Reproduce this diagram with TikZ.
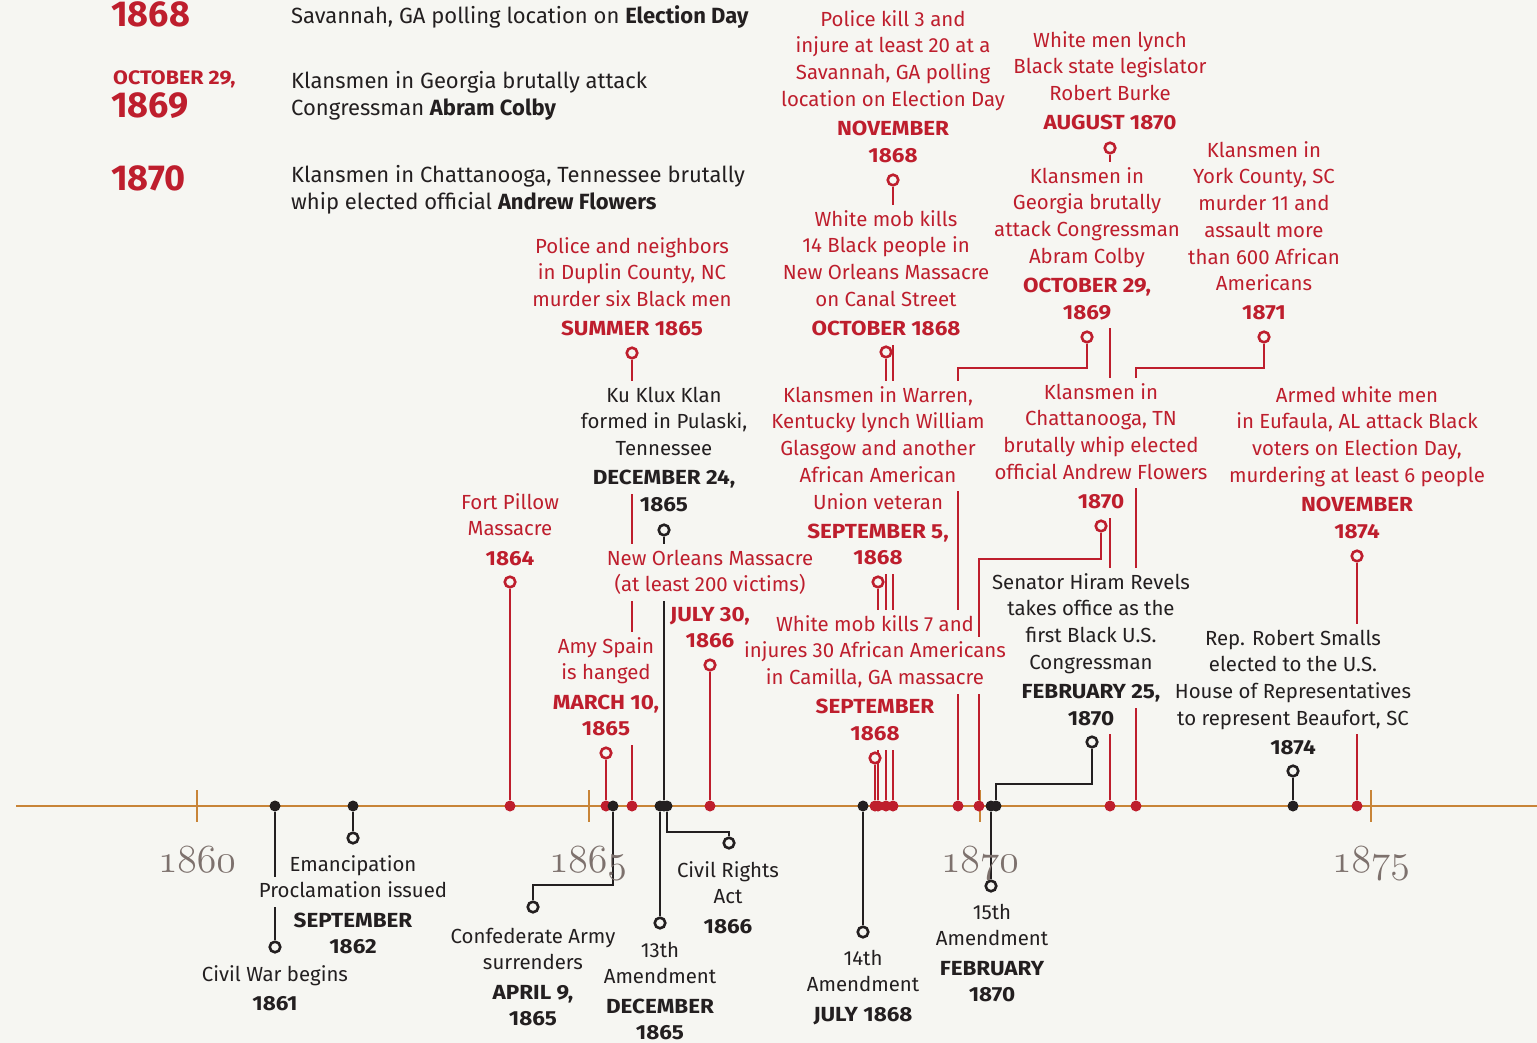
\documentclass[tikz,border=0pt]{standalone}
\usepackage{fontspec}
\setmainfont{Fira Sans}
\newfontfamily\widefont[FakeStretch=1.1]{Fira Sans}
\usetikzlibrary{positioning,backgrounds}
\tikzset{>=stealth}

\definecolor{paper}{RGB}{246,246,242}
\definecolor{tlred}{RGB}{190,30,45}
\definecolor{ink}{RGB}{35,31,32}
\definecolor{axisorange}{RGB}{200,132,56}
\definecolor{yeargray}{RGB}{125,113,109}

\newcommand\evfont{\fontsize{20.4}{26.7}\selectfont\lineskiplimit=-100pt\relax}
\newcommand\hdfont{\fontsize{22}{27}\selectfont\lineskiplimit=-100pt\relax}
\newcommand\yearfont{\fontsize{38}{38}\usefont{OML}{lmm}{m}{it}}
\newcommand\yr[1]{\scalebox{1.6}{#1}}
\newcommand\hs{\rule{0pt}{20pt}}
% one line of text that blanks the connectors behind it
\newcommand\ml[1]{\setbox0=\hbox{#1}\rlap{\hskip-3pt\textcolor{paper}{\rule[-9pt]{\dimexpr\wd0+6pt\relax}{30pt}}}\box0}
\newcommand\dt[1]{\ml{\widefont\bfseries #1}}

\tikzset{
  redtext/.style={align=center, inner sep=0pt, anchor=north, font=\evfont, text=tlred},
  inktext/.style={redtext, text=ink},
  ring/.style={circle, draw=#1, fill=paper, line width=2.6pt, minimum size=10.6pt, inner sep=0pt},
  axisdot/.style={circle, fill=#1, minimum size=11pt, inner sep=0pt},
  redline/.style={draw=tlred, line width=2.6pt},
  inkline/.style={draw=ink, line width=2.6pt},
  yearlbl/.style={anchor=base, inner sep=0pt, text=yeargray, font=\yearfont},
  tickmark/.style={draw=axisorange, line width=2pt},
  hdrnum/.style={anchor=base west, inner sep=0pt, text=tlred, font={\bfseries\fontsize{36}{36}\selectfont}},
  hdrdate/.style={anchor=base west, inner sep=0pt, text=tlred, font={\widefont\bfseries\fontsize{19.5}{19.5}\selectfont}},
  hdrblock/.style={anchor=north west, align=left, inner sep=0pt, text=ink, font=\hdfont},
}

\begin{document}
\begin{tikzpicture}[x=1pt,y=-1pt]
\useasboundingbox (0,0) rectangle (1537,1043);

% key at the top left
\node[hdrnum] (h68) at (111,27) {1868};
\node[hdrblock] (t68) at (291,3) {\hs Savannah, GA polling location on \textbf{Election Day}};
\node[hdrdate] (d69) at (113,85) {OCTOBER 29,};
\node[hdrnum] (h69) at (111,118) {1869};
\node[hdrblock] (t69) at (291,68) {\hs Klansmen in Georgia brutally attack\\Congressman \textbf{Abram Colby}};
\node[hdrnum] (h70) at (111,191) {1870};
\node[hdrblock] (t70) at (291,162) {\hs Klansmen in Chattanooga, Tennessee brutally\\whip elected official \textbf{Andrew Flowers}};

% years
\node[yearlbl] (y60) at (197,872) {\yr{1860}};
\node[yearlbl] (y65) at (588,872) {\yr{1865}};
\node[yearlbl] (y70) at (980,872) {\yr{1870}};
\node[yearlbl] (y75) at (1371,872) {\yr{1875}};

% violence, above the line
\node[redtext] (fp) at (510,488) {\ml{Fort Pillow}\\\ml{Massacre}\\[2.5pt]\dt{1864}};
\node[redtext] (dup) at (632,232) {\ml{Police and neighbors}\\\ml{in Duplin County, NC}\\\ml{murder six Black men}\\[2.5pt]\dt{SUMMER 1865}};
\node[redtext] (amy) at (606,632) {\ml{Amy Spain}\\\ml{is hanged}\\[2.5pt]\dt{MARCH 10,}\\\dt{1865}};
\node[redtext] (no66) at (710,544) {\ml{New Orleans Massacre}\\\ml{(at least 200 victims)}\\[2.5pt]\dt{JULY 30,}\\\dt{1866}};
\node[redtext] (sav) at (893,5) {\ml{Police kill 3 and}\\\ml{injure at least 20 at a}\\\ml{Savannah, GA polling}\\\ml{location on Election Day}\\[2.5pt]\dt{NOVEMBER}\\\dt{1868}};
\node[redtext] (no68) at (886,205) {\ml{White mob kills}\\\ml{14 Black people in}\\\ml{New Orleans Massacre}\\\ml{on Canal Street}\\[2.5pt]\dt{OCTOBER 1868}};
\node[redtext] (war) at (878,381) {\ml{Klansmen in Warren,}\\\ml{Kentucky lynch William}\\\ml{Glasgow and another}\\\ml{African American}\\\ml{Union veteran}\\[2.5pt]\dt{SEPTEMBER 5,}\\\dt{1868}};
\node[redtext] (cam) at (875,610) {\ml{White mob kills 7 and}\\\ml{injures 30 African Americans}\\\ml{in Camilla, GA massacre}\\[2.5pt]\dt{SEPTEMBER}\\\dt{1868}};
\node[redtext] (bur) at (1110,26) {\ml{White men lynch}\\\ml{Black state legislator}\\\ml{Robert Burke}\\[2.5pt]\dt{AUGUST 1870}};
\node[redtext] (col) at (1087,162) {\ml{Klansmen in}\\\ml{Georgia brutally}\\\ml{attack Congressman}\\\ml{Abram Colby}\\[2.5pt]\dt{OCTOBER 29,}\\\dt{1869}};
\node[redtext] (york) at (1264,136) {\ml{Klansmen in}\\\ml{York County, SC}\\\ml{murder 11 and}\\\ml{assault more}\\\ml{than 600 African}\\\ml{Americans}\\[2.5pt]\dt{1871}};
\node[redtext] (cha) at (1101,378) {\ml{Klansmen in}\\\ml{Chattanooga, TN}\\\ml{brutally whip elected}\\\ml{official Andrew Flowers}\\[2.5pt]\dt{1870}};
\node[redtext] (euf) at (1357,381) {\ml{Armed white men}\\\ml{in Eufaula, AL attack Black}\\\ml{voters on Election Day,}\\\ml{murdering at least 6 people}\\[2.5pt]\dt{NOVEMBER}\\\dt{1874}};

% milestones
\node[inktext] (kkk) at (664,381) {\ml{Ku Klux Klan}\\\ml{formed in Pulaski,}\\\ml{Tennessee}\\[2.5pt]\dt{DECEMBER 24,}\\\dt{1865}};
\node[inktext] (rev) at (1091,568) {\ml{Senator Hiram Revels}\\\ml{takes office as the}\\\ml{first Black U.S.}\\\ml{Congressman}\\[2.5pt]\dt{FEBRUARY 25,}\\\dt{1870}};
\node[inktext] (sma) at (1293,624) {\ml{Rep. Robert Smalls}\\\ml{elected to the U.S.}\\\ml{House of Representatives}\\\ml{to represent Beaufort, SC}\\[2.5pt]\dt{1874}};
\node[inktext] (cw) at (275,960) {\ml{Civil War begins}\\[2.5pt]\dt{1861}};
\node[inktext] (em) at (353,850) {\ml{Emancipation}\\\ml{Proclamation issued}\\[2.5pt]\dt{SEPTEMBER}\\\dt{1862}};
\node[inktext] (conf) at (533,922) {\ml{Confederate Army}\\\ml{surrenders}\\[2.5pt]\dt{APRIL 9,}\\\dt{1865}};
\node[inktext] (am13) at (660,936) {\ml{13th}\\\ml{Amendment}\\[2.5pt]\dt{DECEMBER}\\\dt{1865}};
\node[inktext] (cra) at (728,856) {\ml{Civil Rights}\\\ml{Act}\\[2.5pt]\dt{1866}};
\node[inktext] (am14) at (863,944) {\ml{14th}\\\ml{Amendment}\\[2.5pt]\dt{JULY 1868}};
\node[inktext] (am15) at (992,898) {\ml{15th}\\\ml{Amendment}\\[2.5pt]\dt{FEBRUARY}\\\dt{1870}};

% dots on the line
\node[axisdot=tlred] (fpD) at (510,806) {};
\node[axisdot=tlred] (amyD) at (606,806) {};
\node[axisdot=tlred] (dupD) at (632,806) {};
\node[axisdot=tlred] (no66D) at (710,806) {};
\node[axisdot=tlred] (camD) at (875,806) {};
\node[axisdot=tlred] (warD) at (878,806) {};
\node[axisdot=tlred] (no68D) at (886,806) {};
\node[axisdot=tlred] (savD) at (893,806) {};
\node[axisdot=tlred] (colD) at (958,806) {};
\node[axisdot=tlred] (chaD) at (979,806) {};
\node[axisdot=tlred] (burD) at (1110,806) {};
\node[axisdot=tlred] (yorkD) at (1136,806) {};
\node[axisdot=tlred] (eufD) at (1357,806) {};
\node[axisdot=ink] (cwD) at (275,806) {};
\node[axisdot=ink] (emD) at (353,806) {};
\node[axisdot=ink] (confD) at (613,806) {};
\node[axisdot=ink] (am13D) at (660,806) {};
\node[axisdot=ink] (kkkD) at (664,806) {};
\node[axisdot=ink] (craD) at (667,806) {};
\node[axisdot=ink] (am14D) at (863,806) {};
\node[axisdot=ink] (am15D) at (991,806) {};
\node[axisdot=ink] (revD) at (996,806) {};
\node[axisdot=ink] (smaD) at (1293,806) {};

% rings at the far ends
\node[ring=tlred] (fpR) at (510,582) {};
\node[ring=tlred] (dupR) at (632,353) {};
\node[ring=tlred] (amyR) at (606,753) {};
\node[ring=tlred] (no66R) at (710,665) {};
\node[ring=tlred] (savR) at (893,180) {};
\node[ring=tlred] (no68R) at (886,352) {};
\node[ring=tlred] (warR) at (878,582) {};
\node[ring=tlred] (camR) at (875,758) {};
\node[ring=tlred] (burR) at (1110,148) {};
\node[ring=tlred] (colR) at (1087,337) {};
\node[ring=tlred] (yorkR) at (1264,337) {};
\node[ring=tlred] (chaR) at (1101,526) {};
\node[ring=tlred] (eufR) at (1357,556) {};
\node[ring=ink] (kkkR) at (664,530) {};
\node[ring=ink] (revR) at (1092,742) {};
\node[ring=ink] (smaR) at (1293,771) {};
\node[ring=ink] (cwR) at (275,947) {};
\node[ring=ink] (emR) at (353,838) {};
\node[ring=ink] (confR) at (533,907) {};
\node[ring=ink] (am13R) at (660,923) {};
\node[ring=ink] (craR) at (729,843) {};
\node[ring=ink] (am14R) at (863,932) {};
\node[ring=ink] (am15R) at (991,886) {};

\coordinate (colK) at (1087,368);
\coordinate (yorkK) at (1264,368);
\coordinate (chaK) at (1101,559);
\coordinate (revK) at (1092,784);
\coordinate (confK) at (533,885);
\coordinate (craK) at (729,832);
\coordinate (axL) at (16,806);
\coordinate (axR) at (1537,806);

\begin{pgfonlayer}{background}
\fill[paper] (0,0) rectangle (1537,1043);
\draw[draw=axisorange, line width=2.6pt] (axL) -- (axR);
\draw[tickmark] (197,790) -- (197,822);
\draw[tickmark] (589,790) -- (589,822);
\draw[tickmark] (980,790) -- (980,822);
\draw[tickmark] (1371,790) -- (1371,822);
\draw[redline] (fpD) -- (fpR);
\draw[redline] (dupD) -- (dupR);
\draw[redline] (amyD) -- (amyR);
\draw[redline] (no66D) -- (no66R);
\draw[redline] (savD) -- (savR);
\draw[redline] (no68D) -- (no68R);
\draw[redline] (warD) -- (warR);
\draw[redline] (camD) -- (camR);
\draw[redline] (burD) -- (burR);
\draw[redline] (colD) |- (colK) -- (colR);
\draw[redline] (yorkD) |- (yorkK) -- (yorkR);
\draw[redline] (chaD) |- (chaK) -- (chaR);
\draw[redline] (eufD) -- (eufR);
\draw[inkline] (kkkD) -- (kkkR);
\draw[inkline] (revD) |- (revK) -- (revR);
\draw[inkline] (smaD) -- (smaR);
\draw[inkline] (cwD) -- (cwR);
\draw[inkline] (emD) -- (emR);
\draw[inkline] (confD) |- (confK) -- (confR);
\draw[inkline] (am13D) -- (am13R);
\draw[inkline] (craD) |- (craK) -- (craR);
\draw[inkline] (am14D) -- (am14R);
\draw[inkline] (am15D) -- (am15R);
\end{pgfonlayer}
\end{tikzpicture}
\end{document}
